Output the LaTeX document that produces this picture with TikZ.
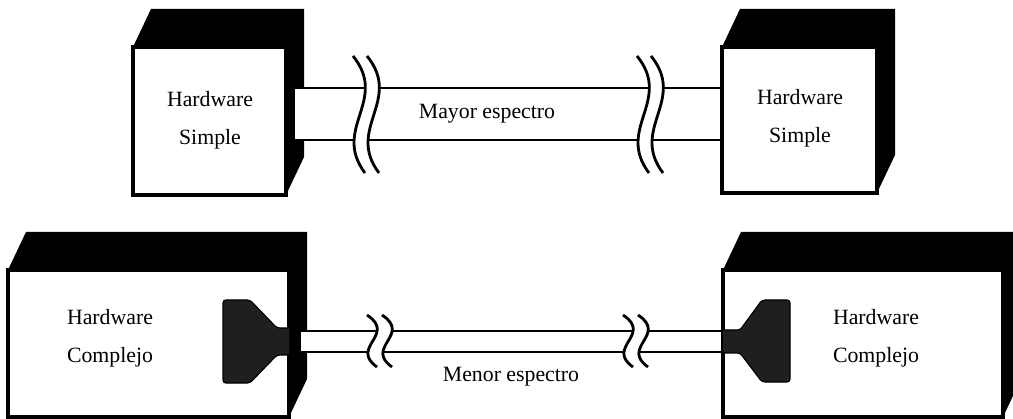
\documentclass[tikz,border=0pt]{standalone}
\usepackage{fontspec}
\setmainfont{Liberation Serif}
\usepackage{xcolor}

% caja 3D: esquina sup. izq. y esquina inf. der. de la cara frontal
\newcommand{\caja}[4]{%
  \fill (#1,#2) -- ({#1+18},{#2-38}) -- ({#3+18},{#2-38}) -- ({#3+18},{#4-38}) -- (#3,#4) -- (#3,#2) -- cycle;
  \filldraw[marco] (#1,#2) rectangle (#3,#4);}
% corte del cable: x, y arriba, alto, ancho de la curva, separacion
\newcommand{\corte}[5]{%
  \fill[white] (#1,#2) .. controls ({#1+3*#4},{#2+0.38*#3}) and ({#1-1.8*#4},{#2+0.62*#3}) .. ({#1+#4},{#2+#3})
    -- ({#1+#4+#5},{#2+#3}) .. controls ({#1-1.8*#4+#5},{#2+0.62*#3}) and ({#1+3*#4+#5},{#2+0.38*#3}) .. ({#1+#5},#2) -- cycle;
  \draw[corte] (#1,#2) .. controls ({#1+3*#4},{#2+0.38*#3}) and ({#1-1.8*#4},{#2+0.62*#3}) .. ({#1+#4},{#2+#3});
  \draw[corte] ({#1+#5},#2) .. controls ({#1+3*#4+#5},{#2+0.38*#3}) and ({#1-1.8*#4+#5},{#2+0.62*#3}) .. ({#1+#4+#5},{#2+#3});}

\begin{document}
\begin{tikzpicture}[x=0.025cm,y=-0.025cm,
  marco/.style={fill=white,line width=2.2pt},
  cable/.style={fill=white,line width=1.9pt},
  corte/.style={line width=2pt},
  conector/.style={fill=black!88,draw=black,line width=0.8pt,rounded corners=2pt},
  texto/.style={align=center,font=\fontsize{15.5}{27}\selectfont}]
\useasboundingbox (0,0) rectangle (1013,419);

% arriba: hardware simple
\caja{133}{47}{286}{195}
\draw[cable] (294,88) rectangle (722,140);
\caja{722}{47}{877}{193}
\corte{353}{56}{117}{12}{14}
\corte{637}{56}{117}{12}{14}
\node[texto] (hwsA) at (210,120) {Hardware\\Simple};
\node[texto] (hwsB) at (800,118) {Hardware\\Simple};
\node[texto] (mayor) at (487,114) {Mayor espectro};

% abajo: hardware complejo
\caja{8}{270}{289}{417}
\draw[cable] (300,331) rectangle (723,352);
\caja{723}{270}{1003}{417}
\draw[conector] (289,328) -- (277,328) -- (250,300) -- (223,300) -- (223,383) -- (250,383) -- (277,355) -- (289,355);
\draw[conector] (723,330) -- (740,330) -- (762,300) -- (790,300) -- (790,382) -- (762,382) -- (740,353) -- (723,353);
\corte{367}{315}{52}{10}{15}
\corte{623}{315}{52}{10}{15}
\node[texto] (hwcA) at (110,338) {Hardware\\Complejo};
\node[texto] (hwcB) at (876,338) {Hardware\\Complejo};
\node[texto] (menor) at (511,377) {Menor espectro};
\end{tikzpicture}
\end{document}
